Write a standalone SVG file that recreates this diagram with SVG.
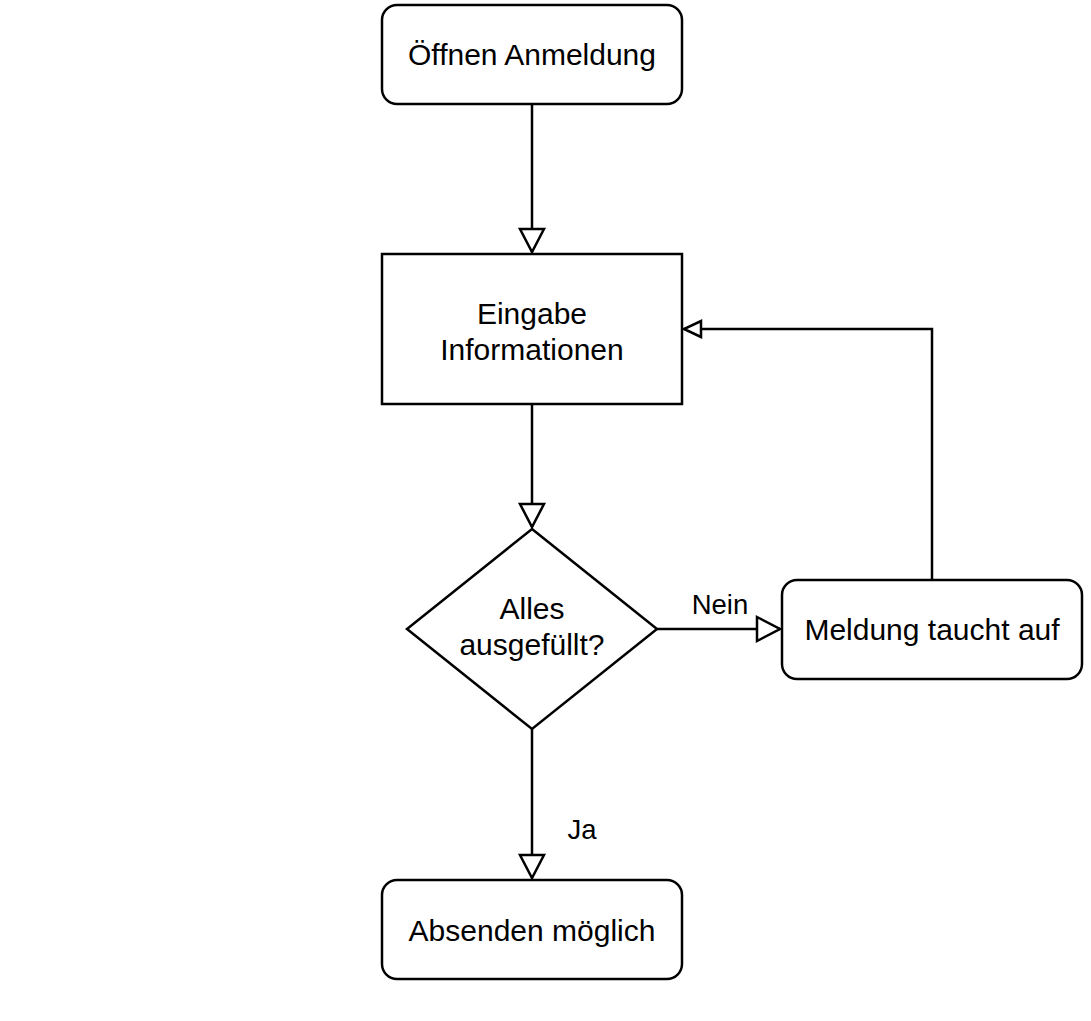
<svg xmlns="http://www.w3.org/2000/svg" width="1091" height="1021" viewBox="0 0 1091 1021">
<style>
.node{fill:#fff;stroke:#000;stroke-width:2.5}
.edge{fill:none;stroke:#000;stroke-width:2.5}
.t{font-family:"Liberation Sans",Arial,sans-serif;font-size:30px;fill:#000;text-anchor:middle}
.lbl{font-family:"Liberation Sans",Arial,sans-serif;font-size:27.5px;fill:#000;text-anchor:middle}
</style>
<defs>
<marker id="big" markerUnits="userSpaceOnUse" markerWidth="30" markerHeight="30" viewBox="0 0 30 30" refX="26" refY="15" orient="auto">
<path d="M3,3 L26,15 L3,27 Z" fill="#fff" stroke="#000" stroke-width="2.5"/>
</marker>
<marker id="small" markerUnits="userSpaceOnUse" markerWidth="24" markerHeight="24" viewBox="0 0 24 24" refX="20" refY="12" orient="auto">
<path d="M3,4 L20,12 L3,20 Z" fill="#fff" stroke="#000" stroke-width="2.5"/>
</marker>
</defs>
<rect width="1091" height="1021" fill="#fff"/>
<g id="connectors">
<path class="edge" d="M532,104 L532,252" marker-end="url(#big)"/>
<path class="edge" d="M532,404 L532,527" marker-end="url(#big)"/>
<path class="edge" d="M657,629 L780,629" marker-end="url(#big)"/>
<path class="edge" d="M532,729 L532,878" marker-end="url(#big)"/>
<path class="edge" d="M932,580 L932,329 L684,329" marker-end="url(#small)"/>
<text class="lbl" x="720" y="614">Nein</text>
<text class="lbl" x="582" y="839">Ja</text>
</g>
<g id="start">
<rect class="node" x="382" y="5" width="300" height="99" rx="15" ry="15"/>
<text class="t" x="532" y="65">Öffnen Anmeldung</text>
</g>
<g id="input">
<rect class="node" x="382" y="254" width="300" height="150"/>
<text class="t" x="532" y="324">Eingabe</text>
<text class="t" x="532" y="360">Informationen</text>
</g>
<g id="decision">
<polygon class="node" points="532,529 657,629 532,729 407,629"/>
<text class="t" x="532" y="619">Alles</text>
<text class="t" x="532" y="655">ausgefüllt?</text>
</g>
<g id="message">
<rect class="node" x="782" y="580" width="300" height="99" rx="15" ry="15"/>
<text class="t" x="932" y="640">Meldung taucht auf</text>
</g>
<g id="submit">
<rect class="node" x="382" y="880" width="300" height="99" rx="15" ry="15"/>
<text class="t" x="532" y="941">Absenden möglich</text>
</g>
</svg>
